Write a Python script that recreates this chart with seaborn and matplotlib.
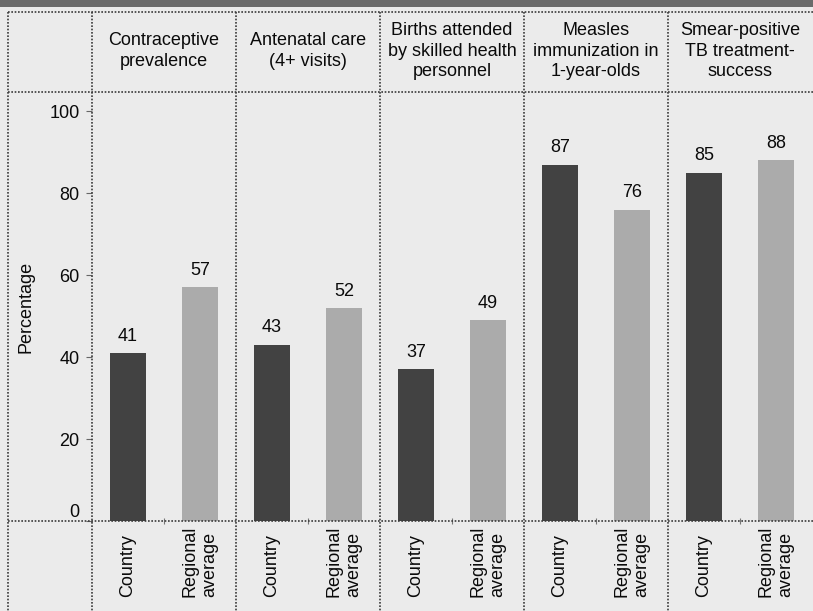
import matplotlib
matplotlib.use("Agg")
import matplotlib.pyplot as plt
from matplotlib.lines import Line2D
from matplotlib.patches import Rectangle
import seaborn as sns
import pandas as pd

# ---- data ----
indicators = ["Contraceptive\nprevalence", "Antenatal care\n(4+ visits)",
              "Births attended\nby skilled health\npersonnel",
              "Measles\nimmunization in\n1-year-olds",
              "Smear-positive\nTB treatment-\nsuccess"]
country = [41, 43, 37, 87, 85]
regional = [57, 52, 49, 76, 88]
groups = ["Country", "Regional average"]
group_labels = ["Country", "Regional\naverage"]
yticks = [0, 20, 40, 60, 80, 100]

W, H = 813, 611
BG = "#ebebeb"
LINE = "#3a3a3a"
FS = 13
TXT = "#0a0a0a"

sns.set_theme(style="white")
plt.rcParams["font.family"] = ["Liberation Sans", "DejaVu Sans"]

df = pd.DataFrame({
    "indicator": indicators * 2,
    "group": [groups[0]] * 5 + [groups[1]] * 5,
    "value": country + regional,
})

fig = plt.figure(figsize=(W / 100, H / 100), dpi=100, facecolor=BG)

def fx(x):
    return x / W

def fy(y):
    return 1 - y / H

ax_left, ax_right, ax_top, ax_bot = 92, 812, 92, 521
ax = fig.add_axes([fx(ax_left), fy(ax_bot), fx(ax_right) - fx(ax_left), fy(ax_top) - fy(ax_bot)])
ax.set_facecolor(BG)

sns.barplot(data=df, x="indicator", y="value", hue="group", order=indicators,
            hue_order=groups, palette={"Country": "#424242", "Regional average": "#ababab"},
            width=1.0, gap=0.5, linewidth=0, legend=False, ax=ax, errorbar=None)

ax.set_xlim(-0.5, 4.5)
ax.set_ylim(0, 104.7)

# value labels
for i in range(5):
    for off, v in ((-0.25, country[i]), (0.25, regional[i])):
        ax.annotate(f"{v}", (i + off, v), xytext=(0, 6), textcoords="offset points",
                    ha="center", va="bottom", fontsize=FS, color=TXT)

# y axis
ax.set_yticks(yticks)
ax.set_yticklabels([str(t) for t in yticks], fontsize=FS, color=TXT)
ax.tick_params(axis="y", which="major", length=4, width=0.8, color="#666666", pad=5, left=True)
lab0 = ax.get_yticklabels()[0]
lab0.set_verticalalignment("bottom")
ax.set_ylabel("Percentage", fontsize=FS, color=TXT)
ax.yaxis.set_label_coords(-0.08, 0.5)

# x axis: bar labels
xpos = []
xlabs = []
for i in range(5):
    xpos += [i - 0.25, i + 0.25]
    xlabs += group_labels
ax.set_xticks(xpos)
ax.set_xticklabels(xlabs, rotation=90, fontsize=FS, color=TXT,
                   va="bottom", ha="center", multialignment="left", linespacing=1.2)
ax.tick_params(axis="x", which="major", length=0, pad=55, bottom=True)
ax.set_xticks(list(range(5)), minor=True)
ax.tick_params(axis="x", which="minor", length=4, width=0.8, color="#777777", bottom=True, direction="inout")
ax.set_xlabel("")

for s in ["top", "right", "left", "bottom"]:
    ax.spines[s].set_visible(False)

# grid / table lines in figure pixel coordinates
def hline(y, x0, x1):
    fig.add_artist(Line2D([fx(x0), fx(x1)], [fy(y), fy(y)], transform=fig.transFigure,
                          color=LINE, lw=1.2, linestyle=(0, (1, 1))))

def vline(x, y0, y1):
    fig.add_artist(Line2D([fx(x), fx(x)], [fy(y0), fy(y1)], transform=fig.transFigure,
                          color=LINE, lw=1.2, linestyle=(0, (1, 1))))

top_y = 12
hline(top_y, 8, W)
hline(ax_top, 8, W)
hline(ax_bot, 8, W)
vline(8, top_y, H)
col_edges = [92, 236, 380, 524, 668]
for x in col_edges:
    vline(x, top_y, H)

# top dark band
fig.add_artist(Rectangle((0, fy(7)), 1, 1 - fy(7), transform=fig.transFigure,
                         facecolor="#6b6b6b", edgecolor="none"))

# header texts
for i, t in enumerate(indicators):
    cx = col_edges[i] + 72
    fig.text(fx(cx), fy(51), t, ha="center", va="center", fontsize=FS,
             color=TXT, linespacing=1.3)

fig.savefig("out.png", dpi=100, facecolor=BG)
